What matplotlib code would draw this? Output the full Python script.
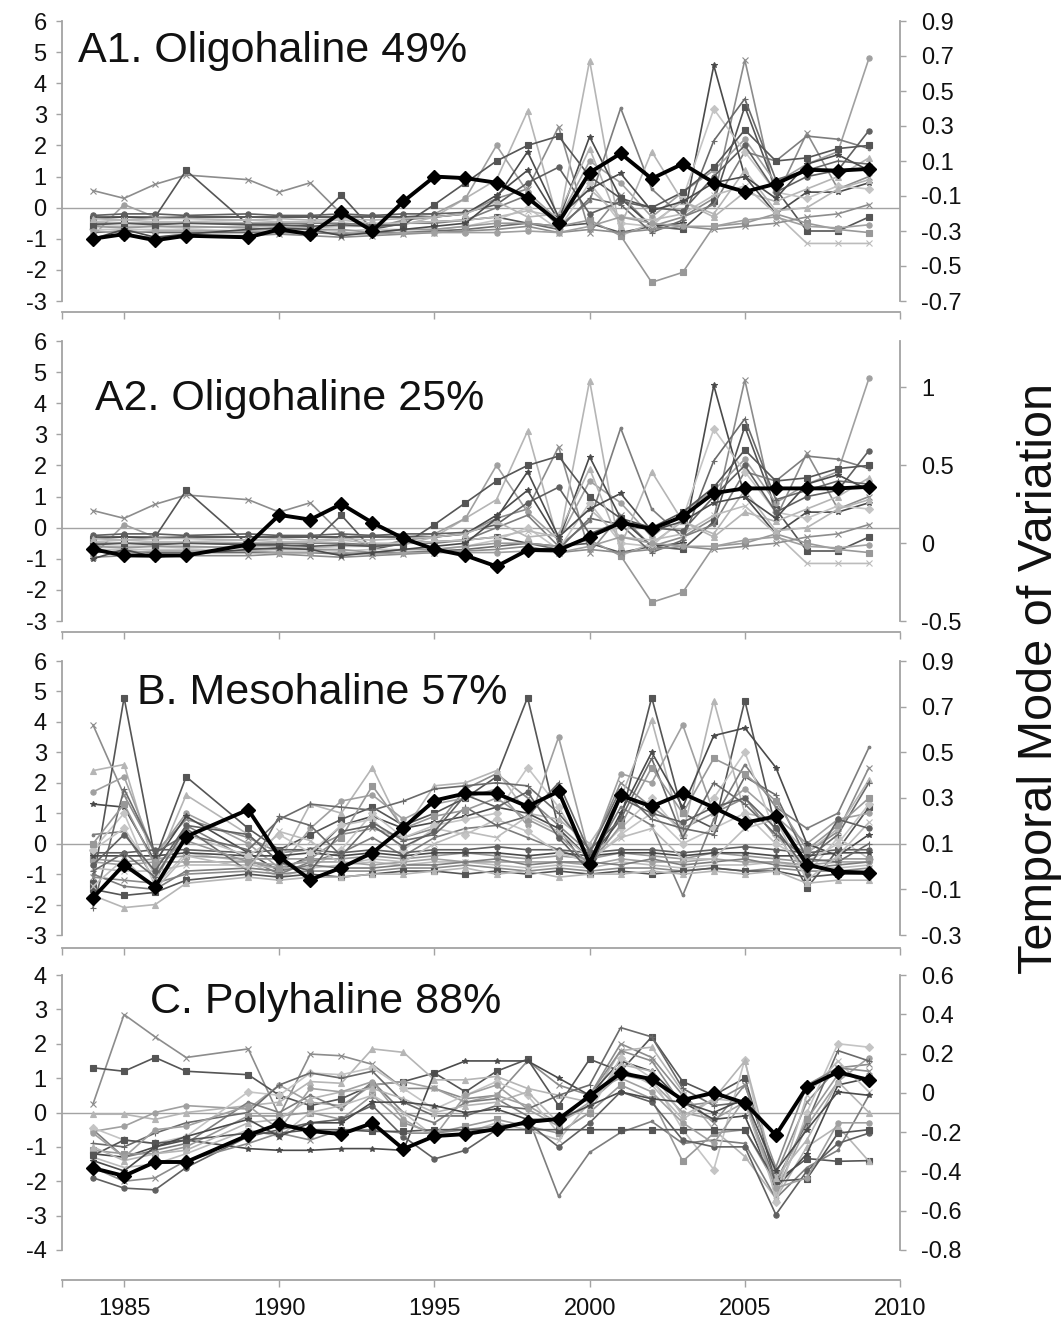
import numpy as np
import matplotlib
matplotlib.use("Agg")
import matplotlib.pyplot as plt
from matplotlib.ticker import FuncFormatter

plt.rcParams['font.family'] = ['Liberation Sans', 'DejaVu Sans']
plt.rcParams['axes.unicode_minus'] = False

# years sampled (1988 missing in every series)
years = [1984, 1985, 1986, 1987, 1989, 1990, 1991, 1992, 1993, 1994, 1995, 1996,
         1997, 1998, 1999, 2000, 2001, 2002, 2003, 2004, 2005, 2006, 2007, 2008, 2009]

# --- Oligohaline variables (standardized, left axis) - same set in A1 and A2
oligo_vars = [
    [0.55, 0.3, 0.75, 1.05, 0.9, 0.5, 0.8, -0.2, -0.65, -0.4, -0.3, -0.2, 0.3, 0.6, 2.6, -0.8, 0.4, -0.6, -0.3, 0.3, 4.75, 0.3, 2.4, 0.6, 1.0],
    [-0.35, -0.3, -0.3, 1.2, -0.55, -0.6, -0.55, 0.4, -0.7, -0.5, -0.45, -0.4, -0.3, -0.5, -0.6, -0.5, -0.8, -0.6, -0.7, 0.2, 3.25, 0.6, -0.75, -0.75, -0.3],
    [-0.6, -0.6, -0.6, -0.65, -0.6, -0.6, -0.65, -0.6, -0.6, -0.55, -0.3, 0.3, 0.9, 3.1, -0.5, 4.73, -0.9, -0.5, 0.2, -0.3, 0.5, 0.2, 0.6, 1.0, 1.6],
    [-0.9, 0.1, -0.3, -0.3, -0.3, -0.3, -0.3, -0.3, -0.25, -0.3, -0.2, 0.3, 2.0, 0.5, -0.4, 1.5, 0.8, -0.3, 0.5, 1.2, 2.2, 0.8, 1.4, 1.8, 4.8],
    [-0.3, -0.3, -0.35, -0.3, -0.3, -0.3, -0.3, -0.3, -0.3, -0.3, -0.3, -0.2, 0.4, 1.2, -0.4, 2.28, 0.3, -0.6, -0.5, 4.57, 1.0, -0.2, 0.5, 0.5, 0.8],
    [-0.5, -0.5, -0.5, -0.5, -0.5, -0.5, -0.5, -0.5, -0.55, -0.5, -0.5, -0.4, 0.0, 0.4, -0.6, 0.2, 3.2, 0.6, -0.3, 0.1, 1.8, 1.5, 2.3, 2.2, 1.9],
    [-0.7, -0.7, -0.7, -0.7, -0.75, -0.7, -0.7, -0.75, -0.7, -0.7, -0.7, -0.6, -0.4, 0.0, -0.7, 0.8, -0.5, -0.6, 0.3, 3.17, 1.8, 0.5, 0.3, 0.7, 0.6],
    [-0.8, -0.75, -0.8, -0.8, -0.8, -0.8, -0.8, -0.85, -0.8, -0.8, -0.75, -0.7, -0.6, -0.5, -0.7, 0.3, 0.1, -0.8, -0.4, 2.15, 3.5, 0.9, 1.2, 1.5, 1.4],
    [-0.6, -0.65, -0.6, -0.6, -0.65, -0.7, -0.7, -0.7, -0.8, -0.7, -0.7, -0.6, -0.5, -0.5, -0.6, -0.4, -0.9, -2.4, -2.08, -0.6, -0.5, -0.2, -0.5, -0.7, -0.8],
    [-0.45, -0.4, -0.45, -0.45, -0.4, -0.45, -0.45, -0.4, -0.5, -0.5, -0.45, -0.4, -0.3, -0.1, -0.3, 0.6, -0.3, -0.4, -0.2, 0.4, 0.7, -0.2, -1.15, -1.15, -1.15],
    [-0.25, -0.2, -0.2, -0.25, -0.2, -0.25, -0.25, -0.2, -0.25, -0.2, -0.2, -0.15, 0.1, 0.8, 1.3, -0.2, 0.2, 0.0, -0.1, 1.0, 2.0, 0.5, 1.0, 1.2, 2.48],
    [-0.95, -0.9, -0.95, -0.9, -0.9, -0.85, -0.9, -0.95, -0.9, -0.85, -0.8, -0.75, -0.7, -0.6, -0.8, -0.7, -0.8, -0.7, -0.6, -0.7, -0.6, -0.5, -0.3, -0.2, 0.1],
    [-0.55, -0.5, -0.55, -0.5, -0.55, -0.55, -0.6, -0.55, -0.6, -0.55, 0.1, 0.8, 1.5, 2.0, 2.3, 1.0, 0.3, 0.0, 0.5, 1.3, 2.5, 1.5, 1.6, 1.9, 2.0],
    [-0.35, -0.4, -0.35, -0.35, -0.4, -0.35, -0.4, -0.35, -0.4, -0.35, -0.3, -0.2, 0.2, -0.3, -0.2, 1.9, -0.6, 1.8, 0.2, -0.2, 1.2, -0.1, 0.0, 0.6, 0.9],
    [-0.75, -0.8, -0.75, -0.75, -0.75, -0.8, -0.8, -0.8, -0.85, -0.8, -0.8, -0.8, -0.8, -0.75, -0.8, -0.6, -0.3, -0.5, -0.6, -0.6, -0.4, -0.3, -0.6, -0.65, -0.55],
    [-1.0, -0.7, -0.95, -0.85, -0.7, -0.65, -0.7, -0.9, -0.8, -0.7, -0.6, -0.5, 0.3, 1.8, -0.3, 0.6, 1.1, -0.1, 0.2, 0.8, 1.0, 0.3, 1.4, 1.7, 1.2],
]

# --- Mesohaline variables
meso_vars = [
    [3.9, 1.6, -0.3, 0.8, 0.2, -0.3, -0.2, 0.3, 0.5, 0.2, 0.5, 1.8, 2.3, 1.5, 0.6, -0.3, 2.0, 1.2, 0.5, 1.0, 1.5, 0.2, -0.3, 0.4, 2.5],
    [-1.3, 4.8, -0.5, 2.2, 0.5, -0.2, 0.3, 0.8, 1.2, 0.6, 1.0, 1.5, 2.2, 4.8, 0.5, -0.5, 0.8, 4.8, 1.0, 0.5, 4.7, 0.5, -1.45, -0.2, 1.2],
    [2.4, 2.6, -0.8, 1.6, 0.3, -0.6, 1.3, 1.0, 2.5, 0.4, 1.9, 2.0, 2.4, 1.0, 0.8, 0.0, 1.5, 4.05, 0.3, 4.7, 1.0, 0.8, -0.3, 0.5, 2.1],
    [1.7, 2.2, -0.4, 1.0, 0.0, -0.8, 0.5, 1.4, 1.6, 0.8, 1.3, 1.5, 1.8, 0.6, 3.5, -0.4, 2.3, 2.0, 3.9, 1.0, 1.8, 0.9, 0.0, 0.8, 1.0],
    [1.3, 1.2, -0.6, 0.9, -0.3, -0.9, -0.4, 0.6, 0.9, 0.5, 0.7, 0.9, 1.2, 1.0, 0.5, -0.9, 1.0, 3.0, 1.2, 3.55, 3.8, 2.5, 0.0, -0.4, 0.3],
    [0.3, 0.4, -1.2, 0.6, -0.5, -1.0, -0.6, -0.3, 0.2, -0.4, 0.2, 0.5, 0.6, 0.2, -0.2, -0.6, 1.2, 0.6, -1.7, 0.8, 2.6, 1.2, 0.5, 1.0, 3.16],
    [-0.2, 1.0, -1.4, -0.3, -0.6, -1.1, -0.8, -0.2, 1.0, 0.2, 0.6, 0.8, 1.0, 2.5, 1.2, -0.5, 0.5, 1.5, 0.3, 1.5, 3.0, 0.3, -1.0, 0.2, -0.5],
    [-2.1, 1.8, -0.3, 0.3, -0.2, 0.8, 1.3, 1.2, 1.1, 1.4, 1.8, 1.9, 2.0, 1.9, 1.0, -0.2, 0.8, 2.8, 0.2, 2.0, 1.3, 0.3, -0.5, 0.3, 2.0],
    [-0.5, -0.6, -0.5, -0.4, -0.5, -0.5, -0.5, -0.5, -0.4, -0.5, -0.4, -0.3, -0.4, -0.5, -0.4, -0.5, -0.3, -0.4, -0.5, -0.3, -0.4, -0.5, -0.6, -0.5, -0.5],
    [-0.8, -0.9, -0.9, -0.7, -0.7, -0.8, -0.8, -0.7, -0.6, -0.7, -0.6, -0.6, -0.7, -0.8, -0.7, -0.8, -0.6, -0.7, -0.8, -0.7, -0.7, -0.6, -0.8, -0.8, -0.7],
    [-0.3, -0.3, -0.2, -0.2, -0.3, -0.2, -0.2, -0.3, -0.2, -0.3, -0.2, -0.2, -0.1, -0.2, -0.2, -0.3, -0.2, -0.2, -0.3, -0.2, -0.1, -0.2, -0.3, -0.2, -0.2],
    [-1.1, -1.2, -1.3, -1.0, -0.9, -1.0, -0.9, -0.9, -0.9, -0.8, -0.8, -0.7, -0.8, -0.9, -0.8, -0.9, -0.8, -0.8, -0.9, -0.8, -0.9, -0.8, -0.9, -0.9, -0.8],
    [-1.5, -1.7, -1.6, -1.2, -1.0, -1.1, -1.0, -1.1, -1.0, -0.9, -0.9, -1.0, -0.9, -1.0, -0.9, -1.0, -0.9, -1.0, -0.9, -0.8, -0.9, -0.9, -1.1, -1.0, -1.0],
    [-1.7, -2.1, -2.0, -1.3, -1.1, -1.2, -1.1, -1.1, -1.0, -1.0, -0.9, -0.8, -1.0, -0.9, -1.1, -1.0, -1.0, -0.9, -1.0, -0.9, -1.0, -0.9, -1.3, -1.2, -1.2],
    [-0.6, -0.7, -0.6, -0.6, -0.6, -0.7, -0.6, -0.6, -0.7, -0.6, -0.5, -0.6, -0.6, -0.6, -0.6, -0.7, -0.5, -0.6, -0.6, -0.5, -0.6, -0.6, -0.7, -0.6, -0.6],
    [-0.4, -0.4, -0.4, -0.3, -0.4, -0.4, -0.3, -0.4, -0.3, -0.4, -0.3, -0.3, -0.3, -0.4, -0.3, -0.4, -0.3, -0.3, -0.4, -0.3, -0.3, -0.4, -0.4, -0.3, -0.3],
    [-1.0, -1.4, -1.5, -0.9, -0.8, -0.9, -0.7, -0.8, -0.8, -0.7, -0.7, -0.6, -0.5, -0.7, -0.6, -0.6, -0.7, -0.5, -0.7, -0.6, -0.5, -0.7, -0.8, -0.7, -0.6],
    [-0.2, 0.5, -1.0, 0.3, -0.4, 0.3, -0.3, 0.6, 0.8, -0.2, 0.5, 0.3, 0.8, 0.4, -0.3, -0.6, 0.3, 1.0, 0.0, 0.5, 1.0, 0.0, -0.6, 0.0, 1.3],
    [-0.9, -0.3, -1.1, 0.5, -0.9, 0.9, 0.6, -0.4, 0.7, 0.1, 0.3, 1.2, 0.6, 0.9, 2.0, -0.3, 1.8, 0.8, 0.5, 0.3, 2.2, 1.6, -0.5, -0.6, 0.0],
    [0.0, 1.3, -0.7, 0.1, -0.6, -0.8, -0.5, 0.2, 1.9, 0.5, 0.9, 1.1, 1.5, 0.8, 0.3, -0.7, 0.6, 2.5, 1.0, 2.8, 2.3, 1.4, -0.2, 0.6, 1.5],
    [-1.4, -0.5, -1.5, -0.4, -0.8, 0.4, 0.1, -0.7, -0.5, -0.6, 0.0, 0.4, 0.2, 0.9, 0.4, -0.5, 0.2, 0.5, -0.5, -0.5, 0.5, 0.8, -1.2, -0.4, 0.7],
    [-0.7, 0.3, -0.9, 0.6, 0.3, -0.6, -0.9, 0.4, 0.6, -0.1, 0.4, 1.6, 1.2, 1.7, 0.2, -0.9, 1.5, 1.0, 0.7, 1.2, 1.5, 0.5, -0.9, 0.8, 0.5],
]

# --- Polyhaline variables
poly_vars = [
    [0.25, 2.85, 2.2, 1.6, 1.85, -0.1, 1.7, 1.65, 1.4, 0.7, 0.7, 0.4, 0.5, 1.5, 0.8, 0.5, 2.0, 1.6, 0.5, -0.3, 0.8, -1.8, 0.3, 1.3, 1.4],
    [1.3, 1.2, 1.6, 1.2, 1.1, 0.5, 0.2, 0.4, 0.8, 0.9, 1.15, 0.6, 1.2, 1.55, 0.2, 1.55, 1.2, 2.2, 0.9, 0.5, 1.0, -2.0, -1.34, -1.42, -1.4],
    [-0.05, -0.05, -0.2, 0.0, 0.2, 0.3, 0.9, 0.85, 1.85, 1.75, 0.95, 0.95, 1.05, 0.7, 0.5, 0.3, 1.8, 1.9, 0.6, -0.5, -1.28, -2.5, -1.0, -0.4, -1.42],
    [-0.55, -0.4, 0.0, 0.2, 0.1, 0.8, 0.3, 0.2, 0.8, 0.9, 0.7, 0.3, 0.5, 0.2, -0.3, 0.3, 1.1, 0.9, 0.0, -0.2, 0.3, -2.3, -0.4, 0.9, 1.6],
    [-1.2, -1.3, -1.0, -0.8, -1.05, -1.1, -1.1, -1.05, -1.05, -1.1, 1.15, 1.5, 1.5, 1.5, 1.0, 0.5, 1.5, 1.2, 0.3, -0.2, -0.1, -2.2, -1.2, 0.8, 1.0],
    [-0.5, -1.3, -1.1, -0.9, 0.3, 0.0, 0.5, 0.1, 0.9, 0.0, -0.3, 0.3, 0.4, -0.1, -2.44, -1.16, -0.58, -0.26, -0.9, -0.8, -0.9, -2.5, -1.6, -1.1, 0.5],
    [-0.45, -0.8, -0.9, -0.7, 0.6, 0.5, 1.15, 1.1, 1.3, 0.7, 0.1, 0.5, 0.9, 0.5, -0.6, 0.0, 1.6, 1.0, -0.5, -1.66, 1.54, -2.6, 0.0, 2.0, 1.9],
    [-0.9, -1.0, -0.6, -0.3, 0.0, 0.8, 1.15, 1.0, 1.2, 0.3, -0.1, -0.1, 0.2, 0.1, 0.5, 0.8, 2.47, 2.2, 0.7, 0.2, 0.3, -2.0, -0.3, 1.8, 1.5],
    [-1.1, -1.2, -1.2, -1.0, -0.1, -0.1, 0.0, -0.2, 0.5, -0.3, -0.6, -0.4, -0.2, -0.4, -0.6, 0.0, 0.8, 0.4, -1.42, -0.6, -0.5, -2.1, -0.2, 1.1, 1.0],
    [-1.3, -1.6, -1.5, -1.2, -0.5, -0.7, 0.0, 0.2, 0.5, 0.0, -0.7, -0.6, -0.3, -0.5, -0.8, 0.3, 1.3, 0.8, -0.2, 0.4, 0.3, -2.4, 0.5, 1.5, 0.6],
    [-1.9, -2.2, -2.25, -1.6, -0.7, -0.5, -0.3, -0.2, 0.2, -0.7, -1.35, -1.1, -0.5, -0.3, -1.0, -0.3, 0.6, 0.3, -0.8, -1.0, -1.0, -2.97, -1.7, -0.9, -0.6],
    [-1.6, -2.0, -1.9, -1.4, -0.9, -0.6, -0.8, -0.5, -0.5, -0.6, -0.6, -0.5, -0.4, -0.3, -0.2, 0.5, 1.8, 1.5, 0.2, 0.3, 0.8, -1.6, 0.8, 1.3, 1.2],
    [-1.25, -0.8, -0.9, -0.8, -0.6, -0.6, -0.5, -0.5, -0.55, -0.55, -0.5, -0.5, -0.5, -0.5, -0.5, -0.5, -0.5, -0.5, -0.5, -0.5, -0.5, -2.0, -1.93, -0.6, -0.5],
    [-1.0, -1.4, -1.2, -1.1, -0.3, -0.2, 0.4, 0.6, 0.7, 0.4, 0.0, 0.2, 0.3, 0.6, -0.3, 0.2, 1.4, 1.2, -0.1, 0.4, 1.5, -1.9, -0.8, 0.9, 0.0],
    [-0.6, -1.3, -0.5, -0.4, 0.2, -0.5, 0.7, 0.6, 0.9, -0.2, -0.7, 0.5, 0.8, 0.1, -0.4, 0.6, 1.0, 0.6, -0.3, -0.9, 0.4, -2.2, -1.9, -0.3, -0.3],
    [-1.4, -1.7, -1.0, -0.7, -0.2, -0.7, -0.3, -0.3, 0.3, 0.3, 0.2, 0.0, 0.1, -0.2, -0.2, 0.2, 0.6, 0.4, 0.3, 0.0, 0.4, -1.7, -0.5, 0.6, 0.5],
]

# --- temporal modes of variation (right axis)
mode_a1 = [-0.344, -0.318, -0.353, -0.327, -0.336, -0.291, -0.318, -0.193, -0.30, -0.131, 0.011, 0.002,
           -0.024, -0.110, -0.252, 0.034, 0.143, -0.001, 0.084, -0.024, -0.076, -0.030, 0.050, 0.045, 0.055]
mode_a2 = [-0.04, -0.08, -0.08, -0.08, -0.01, 0.18, 0.15, 0.25, 0.13, 0.03, -0.04, -0.08,
           -0.15, -0.045, -0.045, 0.04, 0.13, 0.09, 0.17, 0.32, 0.35, 0.35, 0.35, 0.35, 0.36]
mode_b = [-0.137, 0.008, -0.089, 0.131, 0.249, 0.043, -0.058, -0.005, 0.06, 0.17, 0.289, 0.32,
          0.32, 0.263, 0.329, 0.012, 0.311, 0.263, 0.32, 0.258, 0.192, 0.219, 0.008, -0.023, -0.027]
mode_c = [-0.383, -0.423, -0.352, -0.352, -0.215, -0.159, -0.194, -0.21, -0.154, -0.286, -0.22, -0.21,
          -0.184, -0.148, -0.133, -0.016, 0.101, 0.07, -0.036, 0.0, -0.052, -0.215, 0.03, 0.106, 0.065]

titles = ["A1. Oligohaline 49%", "A2. Oligohaline 25%", "B. Mesohaline 57%", "C. Polyhaline 88%"]
xticks = [1985, 1990, 1995, 2000, 2005, 2010]

W, H = 1063, 1320
fig = plt.figure(figsize=(W / 100, H / 100), dpi=100)

spine_c = '#a3a3a3'
shades = ['#8c8c8c', '#555555', '#b5b5b5', '#a0a0a0', '#4a4a4a', '#7d7d7d',
          '#c4c4c4', '#6a6a6a', '#989898', '#bcbcbc', '#606060']
markers = ['x', 's', '^', 'o', '*', '.', 'D', '+', 's', 'x', 'o']

# (series, mode, left lim, left ticks, right lim, right ticks, top px, bottom px, axis offset px, title xy px)
panels = [
    (oligo_vars, mode_a1, (-3, 6), range(-3, 7), (-0.7, 0.9), np.arange(-0.7, 0.91, 0.2), 21, 301, 11, (78, 62)),
    (oligo_vars, mode_a2, (-3, 6), range(-3, 7), (-0.5, 1.295), [-0.5, 0, 0.5, 1], 341, 621, 11, (95, 410)),
    (meso_vars, mode_b, (-3, 6), range(-3, 7), (-0.3, 0.9), np.arange(-0.3, 0.91, 0.2), 661, 935, 13, (137, 704)),
    (poly_vars, mode_c, (-4, 4), range(-4, 5), (-0.8, 0.6), np.arange(-0.8, 0.61, 0.2), 975, 1250, 30, (150, 1013)),
]


def rfmt(v, pos):
    v = round(v, 2)
    if v == 0:
        v = 0.0
    return f'{v:g}'.replace('-0.0', '0')


for i, (series, mode, ylim, yt, rlim, rt, top, bot, off, tpos) in enumerate(panels):
    ax = fig.add_axes([62 / W, 1 - bot / H, (900 - 62) / W, (bot - top) / H])
    ax2 = ax.twinx()

    ax.axhline(0, color=spine_c, lw=1.0, zorder=0.5)
    for k, vals in enumerate(series):
        ax.plot(years, vals, color=shades[k % len(shades)], marker=markers[k % len(markers)],
                ms=3.8, mew=0.8, lw=1.2, zorder=2)
    ax2.plot(years, mode, color='black', lw=2.8, marker='D', ms=7, zorder=5)

    ax.set_xlim(1983, 2010)
    ax.set_ylim(*ylim)
    ax.set_yticks(list(yt))
    ax2.set_ylim(*rlim)
    ax2.set_yticks(rt)
    ax2.yaxis.set_major_formatter(FuncFormatter(rfmt))

    for a in (ax, ax2):
        a.set_facecolor('none')
        a.spines['top'].set_visible(False)
    ax.spines['right'].set_visible(False)
    ax2.spines['left'].set_visible(False)
    ax2.spines['bottom'].set_visible(False)
    for s in ('left', 'bottom'):
        ax.spines[s].set_color(spine_c)
        ax.spines[s].set_linewidth(1.3)
    ax2.spines['right'].set_color(spine_c)
    ax2.spines['right'].set_linewidth(1.3)
    ax.spines['bottom'].set_position(('outward', off * 0.72))

    ax.tick_params(axis='y', colors=spine_c, labelcolor='#111111', labelsize=17, length=4, width=1, pad=7)
    ax2.tick_params(axis='y', colors=spine_c, labelcolor='#111111', labelsize=17, length=4, width=1, pad=11)
    ax.set_xticks(xticks)
    ax.set_xticks([1983], minor=True)
    ax.tick_params(axis='x', which='both', colors=spine_c, labelcolor='#111111', labelsize=17,
                   length=5, width=1, pad=8)
    if i < 3:
        ax.tick_params(axis='x', labelbottom=False)

    fig.text(tpos[0] / W, 1 - tpos[1] / H, titles[i], fontsize=31, ha='left', va='baseline', color='#111111')

fig.text(1040 / W, 1 - 678 / H, 'Temporal Mode of Variation', rotation=90, ha='center', va='center',
         fontsize=35, color='#111111')

fig.savefig('out.png', dpi=100, facecolor='white')
